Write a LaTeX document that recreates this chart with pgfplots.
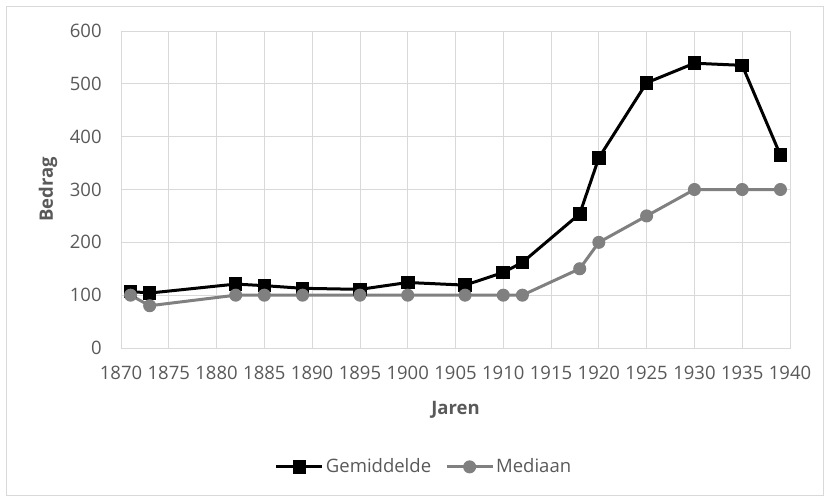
\documentclass[border=0pt]{standalone}
\usepackage{pgfplots}
\pgfplotsset{compat=1.18}
\usepackage{fontspec}
\setmainfont{Open Sans}
\definecolor{txt}{HTML}{595959}
\definecolor{med}{HTML}{808080}
\definecolor{gridc}{HTML}{D9D9D9}
\newcommand{\chartfont}{\fontsize{18.5}{22}\selectfont}
\begin{document}
\chartfont
\begin{tikzpicture}[x=1pt,y=1pt]
\path[use as bounding box] (-121,-153) rectangle (708,348);
\draw[gridc, line width=0.8pt] (-115,-147) rectangle (702,342);
\begin{axis}[
  at={(0,0)}, anchor=south west,
  scale only axis, width=669pt, height=317pt,
  xmin=1870, xmax=1940, ymin=0, ymax=600,
  xtick={1870,1875,...,1940}, ytick={0,100,...,600},
  grid=major, grid style={gridc, line width=0.8pt},
  axis line style={gridc, line width=0.8pt},
  major tick length=0pt,
  /pgf/number format/assume math mode=true,
  /pgf/number format/1000 sep={},
  tick label style={text=txt, font=\chartfont},
  yticklabel style={xshift=-13pt},
  xticklabel style={yshift=-12pt},
  xlabel={\textbf{Jaren}}, ylabel={\textbf{Bedrag}},
  label style={font=\chartfont},
  xlabel style={text=txt, at={(axis description cs:0.5,-0.196)}, anchor=center},
  ylabel style={text=txt, at={(axis description cs:-0.109,0.5)}, anchor=center, rotate=0},
  legend style={at={(axis description cs:0.453,-0.375)}, anchor=center, draw=none, fill=none,
    font=\chartfont, legend columns=2, text=txt, /tikz/every even column/.append style={column sep=12pt}},
  legend image code/.code={
    \draw[#1, mark repeat=2, mark phase=2] plot coordinates {(0pt,0pt) (23pt,0pt) (46pt,0pt)};},
]
\addplot[black, line width=3pt, mark=square*, mark size=6.3pt, mark options={solid, line width=1pt}] coordinates {
(1871,107) (1873,104) (1882,121) (1885,118) (1889,113) (1895,111) (1900,124) (1906,119)
(1910,143) (1912,162) (1918,254) (1920,360) (1925,502) (1930,539) (1935,535) (1939,365)};
\addlegendentry{Gemiddelde}
\addplot[med, line width=3pt, mark=*, mark size=6pt, mark options={solid, line width=1pt, fill=med, draw=med}] coordinates {
(1871,100) (1873,80) (1882,100) (1885,100) (1889,100) (1895,100) (1900,100) (1906,100)
(1910,100) (1912,100) (1918,150) (1920,200) (1925,250) (1930,300) (1935,300) (1939,300)};
\addlegendentry{Mediaan}
\end{axis}
\end{tikzpicture}
\end{document}
